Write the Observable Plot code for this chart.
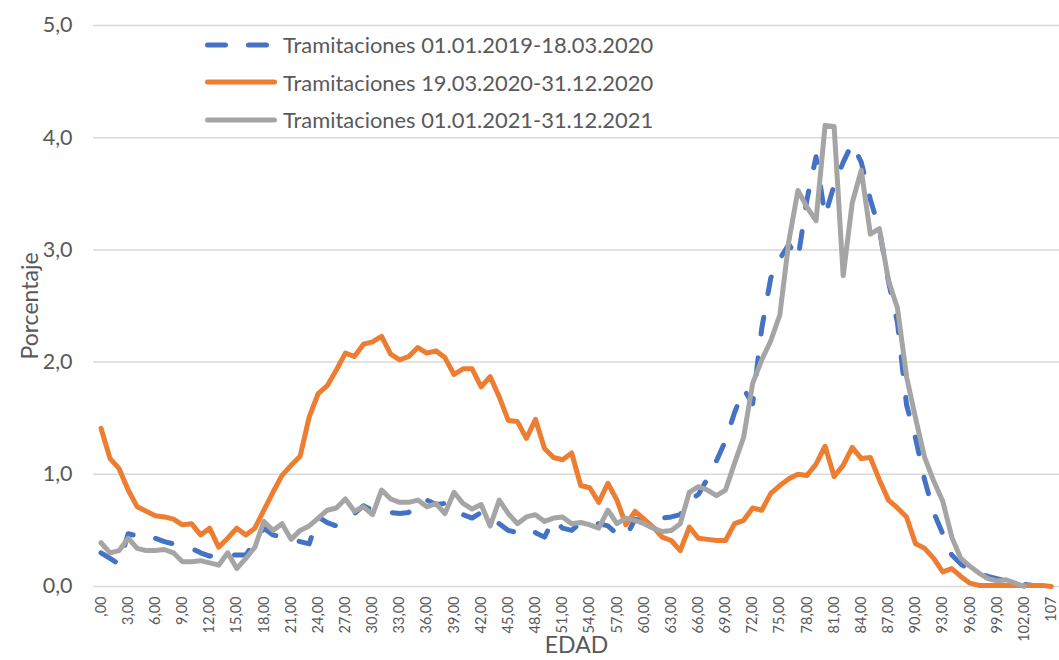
<!DOCTYPE html>
<html><head><meta charset="utf-8">
<script src="https://cdn.jsdelivr.net/npm/d3@7"></script>
<script src="https://cdn.jsdelivr.net/npm/@observablehq/plot@0.6"></script>
<style>
body{margin:0;background:#fff;}
#wrap{position:relative;width:1059px;height:660px;font-family:Lato,sans-serif;}
#legend{position:absolute;left:205px;top:26px;color:#595959;font-size:21.9px;}
.row{display:flex;align-items:center;height:37.5px;white-space:nowrap;}
.row svg{margin-right:6px;flex:none;}
svg [aria-label="y-axis label"] text, svg [aria-label="x-axis label"] text{font-size:23px;}
</style></head><body><div id="wrap"><div id="legend"></div></div>
<script>
const ages = [...Array.from({length:105},(_, k) => k), 107];
const ageLabels = ages.map(a => a === 0 ? ",00" : a === 107 ? "107" : a + ",00");
const seriesNames = ["Tramitaciones 01.01.2019-18.03.2020","Tramitaciones 19.03.2020-31.12.2020","Tramitaciones 01.01.2021-31.12.2021"];
const seriesColors = ["#4472C4","#ED7D31","#A5A5A5"];
const yTicks = [0,1,2,3,4,5];
const serie2019 = [0.30,0.25,0.20,0.47,0.45,0.41,0.43,0.40,0.38,0.36,
 0.34,0.30,0.27,0.28,0.28,0.28,0.28,0.40,0.52,0.46,
 0.44,0.42,0.40,0.38,0.62,0.57,0.54,0.60,0.65,0.72,
 0.68,0.67,0.66,0.65,0.66,0.76,0.77,0.73,0.74,0.72,
 0.64,0.61,0.66,0.59,0.56,0.50,0.48,0.52,0.48,0.44,
 0.60,0.52,0.50,0.57,0.56,0.56,0.54,0.47,0.44,0.60,
 0.58,0.60,0.61,0.62,0.64,0.77,0.82,0.96,1.12,1.30,
 1.55,1.76,1.63,2.30,2.75,2.92,3.05,2.92,3.45,3.83,
 3.30,3.58,3.78,3.95,3.78,3.45,3.18,2.72,2.35,1.62,
 1.32,0.95,0.66,0.47,0.28,0.20,0.15,0.12,0.09,0.07,
 0.05,0.03,0.02,0.01,null,null];
const serie2020 = [1.41,1.14,1.05,0.86,0.71,0.67,0.63,0.62,0.60,0.55,
 0.56,0.46,0.52,0.35,0.43,0.52,0.46,0.52,0.68,0.84,
 0.99,1.08,1.16,1.51,1.72,1.79,1.93,2.08,2.05,2.16,
 2.18,2.23,2.07,2.02,2.05,2.13,2.08,2.10,2.04,1.89,
 1.94,1.94,1.78,1.87,1.69,1.48,1.47,1.32,1.49,1.23,
 1.15,1.13,1.19,0.90,0.88,0.75,0.92,0.77,0.55,0.67,
 0.60,0.53,0.44,0.41,0.32,0.53,0.43,0.42,0.41,0.41,
 0.56,0.59,0.70,0.68,0.83,0.90,0.96,1.00,0.99,1.09,
 1.25,0.98,1.08,1.24,1.14,1.15,0.95,0.77,0.70,0.62,
 0.38,0.34,0.25,0.13,0.16,0.09,0.03,0.01,0.01,0.01,
 0.01,0.01,0.01,0.01,0.01,0.00];
const serie2021 = [0.39,0.30,0.32,0.43,0.34,0.32,0.32,0.33,0.30,0.22,
 0.22,0.23,0.21,0.19,0.30,0.16,0.25,0.35,0.58,0.50,
 0.56,0.42,0.50,0.54,0.61,0.68,0.70,0.78,0.67,0.71,
 0.64,0.86,0.78,0.75,0.75,0.77,0.71,0.74,0.65,0.84,
 0.74,0.69,0.73,0.54,0.77,0.65,0.56,0.62,0.64,0.58,
 0.61,0.62,0.56,0.57,0.55,0.52,0.68,0.56,0.61,0.59,
 0.56,0.52,0.49,0.50,0.56,0.84,0.89,0.86,0.81,0.86,
 1.10,1.33,1.81,2.02,2.19,2.42,3.08,3.53,3.38,3.26,
 4.11,4.10,2.77,3.42,3.71,3.14,3.19,2.73,2.48,1.87,
 1.50,1.15,0.94,0.76,0.44,0.25,0.18,0.12,0.07,0.05,
 0.06,0.03,0.00,null,null,null];

const allSeries = [serie2019, serie2020, serie2021];
const rows = allSeries.map(vals => ages.map((a, i) => ({i, v: vals[i]})).filter(d => d.v != null));
const tickIdx = d3.range(0, ages.length, 3);

const chart = Plot.plot({
  width: 1059, height: 660,
  marginLeft: 93, marginRight: 0, marginTop: 25, marginBottom: 74,
  style: {fontFamily: "Lato, sans-serif", color: "#595959", background: "#fff", overflow: "visible"},
  x: {type: "linear", domain: [-0.83, 105.9]},
  y: {domain: [0, 5]},
  marks: [
    Plot.gridY(yTicks, {stroke: "#d9d9d9", strokeOpacity: 1, strokeWidth: 1.5}),
    Plot.axisY({ticks: yTicks, tickFormat: d => d.toFixed(1).replace(".", ","), tickSize: 0, tickPadding: 21, fontSize: 21.5, label: "Porcentaje", labelAnchor: "center", labelArrow: "none", labelOffset: 72}),
    Plot.axisX({ticks: tickIdx, tickFormat: i => ageLabels[i], tickSize: 0, tickPadding: 10, tickRotate: -90, fontSize: 14.5, label: "EDAD", labelAnchor: "center", labelArrow: "none", labelOffset: 66}),
    Plot.line(rows[0], {x: "i", y: "v", stroke: seriesColors[0], strokeWidth: 5, strokeDasharray: "17,24", strokeLinecap: "round", strokeLinejoin: "round"}),
    Plot.line(rows[1], {x: "i", y: "v", stroke: seriesColors[1], strokeWidth: 5, strokeLinecap: "round", strokeLinejoin: "round"}),
    Plot.line(rows[2], {x: "i", y: "v", stroke: seriesColors[2], strokeWidth: 5, strokeLinecap: "round", strokeLinejoin: "round"})
  ]
});
document.getElementById("wrap").prepend(chart);

const legend = document.getElementById("legend");
seriesNames.forEach((name, k) => {
  const row = document.createElement("div");
  row.className = "row";
  const dash = k === 0 ? 'stroke-dasharray="18 23"' : '';
  row.innerHTML = `<svg width="72" height="10"><line x1="2.5" y1="5" x2="69.5" y2="5" stroke="${seriesColors[k]}" stroke-width="5" stroke-linecap="round" ${dash}/></svg><span>${name}</span>`;
  legend.appendChild(row);
});
</script></body></html>
